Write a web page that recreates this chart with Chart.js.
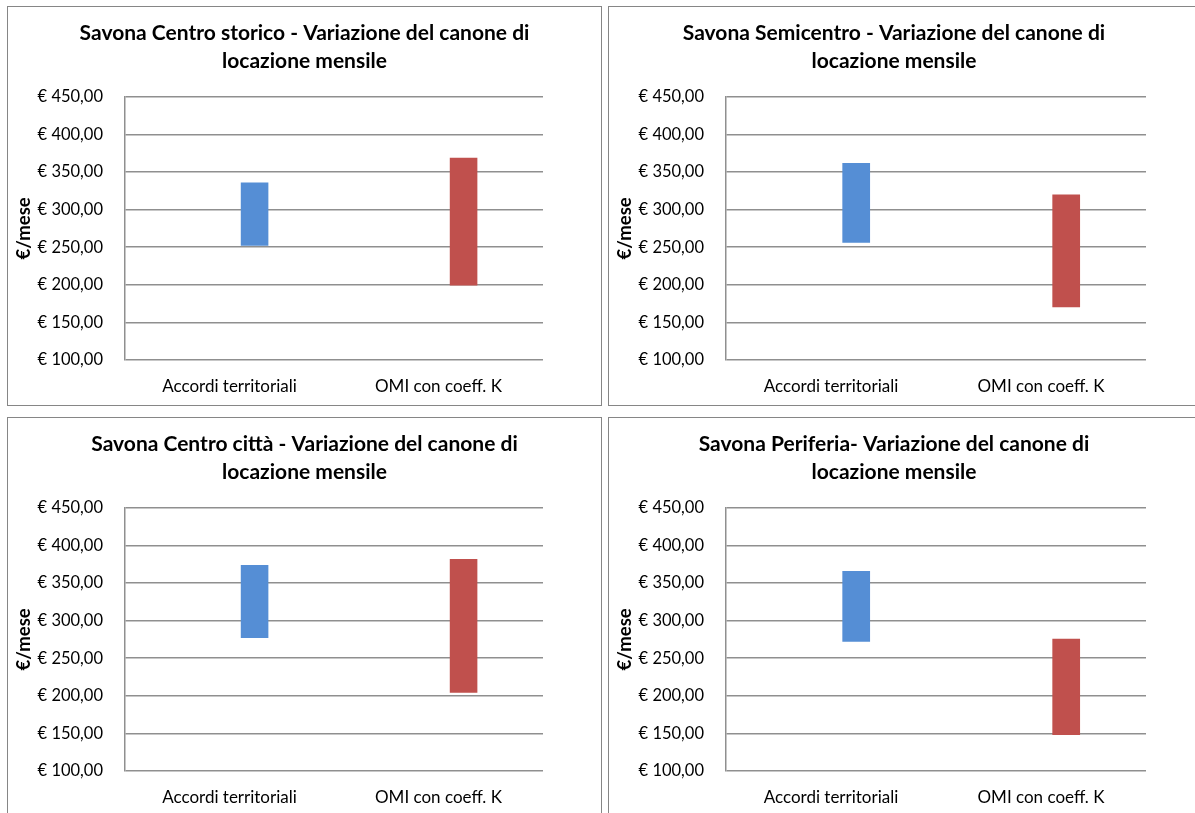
<!DOCTYPE html>
<html>
<head>
<meta charset="utf-8">
<script src="https://cdn.jsdelivr.net/npm/chart.js@4.4.0/dist/chart.umd.min.js"></script>
<style>
body { margin: 0; background: #fff; width: 1195px; height: 813px; overflow: hidden; position: relative; }
.panel { position: absolute; border: 1px solid #868686; box-sizing: border-box; background: #fff; }
.right { border-right: none; }
canvas { display: block; }
</style>
</head>
<body>
<div class="panel" style="left:7px;top:6px;width:595px;height:400px"><canvas id="c1" width="593" height="398"></canvas></div>
<div class="panel right" style="left:608px;top:6px;width:588px;height:400px"><canvas id="c2" width="587" height="398"></canvas></div>
<div class="panel" style="left:7px;top:417px;width:595px;height:400px"><canvas id="c3" width="593" height="398"></canvas></div>
<div class="panel right" style="left:608px;top:417px;width:588px;height:400px"><canvas id="c4" width="587" height="398"></canvas></div>
<script>
const categories = ['Accordi territoriali', 'OMI con coeff. K'];

// canone mensile min / max per zona
const storicoMin = [252, 199];
const storicoMax = [336, 369];
const semicentroMin = [256, 170];
const semicentroMax = [362, 320];
const cittaMin = [277, 204];
const cittaMax = [374, 382];
const periferiaMin = [272, 148];
const periferiaMax = [366, 276];

const BLUE = '#558ED5';
const RED = '#C0504D';
const FONT = 'Lato';

function euro(v) {
  return '€ ' + v.toFixed(2).replace('.', ',');
}

// padRight shifts the title too, gapRight only narrows the plot
function makeChart(id, titleLines, mins, maxs, padRight, gapRight) {
  const ranges = mins.map((m, i) => [m, maxs[i]]);
  const ctx = document.getElementById(id).getContext('2d');
  return new Chart(ctx, {
    type: 'bar',
    data: {
      labels: categories,
      datasets: [
        { label: '', data: categories.map(() => null) },
        { label: 'range', data: ranges, backgroundColor: [BLUE, RED] }
      ]
    },
    options: {
      responsive: false,
      animation: false,
      datasets: { bar: { categoryPercentage: 0.48, barPercentage: 0.55 } },
      layout: { padding: { left: 0, right: padRight, top: 0, bottom: 0 } },
      plugins: {
        legend: { display: false },
        tooltip: { enabled: false },
        title: {
          display: true,
          text: titleLines,
          color: '#000',
          font: { family: FONT, size: 21, weight: 'bold', lineHeight: 1.34 },
          padding: { top: 12, bottom: 21.5 }
        }
      },
      scales: {
        x: {
          grid: { display: false },
          border: { display: false },
          ticks: { color: '#000', font: { family: FONT, size: 17 }, padding: 8 },
          afterFit: (s) => { s.height = 45; }
        },
        y: {
          min: 100,
          max: 450,
          ticks: {
            stepSize: 50,
            color: '#000',
            font: { family: FONT, size: 16.5 },
            padding: 22,
            callback: (v) => euro(v)
          },
          grid: { color: '#8f8f8f', lineWidth: 1.5, drawTicks: false },
          border: { color: '#8f8f8f', width: 1.5 },
          title: {
            display: true,
            text: '€/mese',
            color: '#000',
            font: { family: FONT, size: 18.5, weight: 'bold' },
            padding: { top: 5, bottom: 0 }
          },
          afterFit: (s) => { s.width = 117; }
        },
        gap: {
          position: 'right',
          grid: { display: false },
          border: { display: false },
          ticks: { display: false },
          afterFit: (s) => { s.width = gapRight; }
        }
      }
    }
  });
}

makeChart('c1', ['Savona Centro storico - Variazione del canone di', 'locazione mensile'], storicoMin, storicoMax, 0, 58);
makeChart('c2', ['Savona Semicentro - Variazione del canone di', 'locazione mensile'], semicentroMin, semicentroMax, 17, 33);
makeChart('c3', ['Savona Centro città - Variazione del canone di', 'locazione mensile'], cittaMin, cittaMax, 0, 58);
makeChart('c4', ['Savona Periferia- Variazione del canone di', 'locazione mensile'], periferiaMin, periferiaMax, 17, 33);
</script>
</body>
</html>
